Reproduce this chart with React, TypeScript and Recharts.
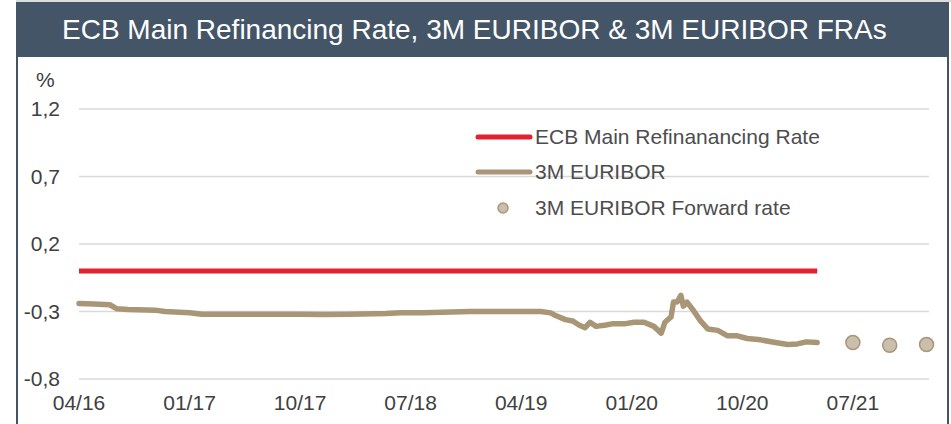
import {
    ComposedChart,
    Line,
    Scatter,
    XAxis,
    YAxis,
    CartesianGrid,
    Legend,
} from "recharts";

// x values are months counted from April 2016
const ecbMonths = [0, 60.1];
const ecbRates = [0, 0];

const euriborMonths = [
    0, 1.2, 2.5, 3.1, 4, 6.2, 7, 9, 10, 14, 18, 20, 22, 25, 26.2, 28, 31.9,
    34.3, 37.6, 38.4, 38.8, 39.6, 40.2, 40.7, 41.2, 41.6, 42.1, 42.9, 43.5,
    44.5, 45.2, 46, 46.8, 47.4, 47.7, 48.2, 48.4, 48.7, 49, 49.2, 49.5, 50,
    50.6, 51.2, 52, 52.8, 53.6, 54.4, 55.5, 56.7, 57.7, 58.5, 59.2, 60.1,
];
const euriborRates = [
    -0.24, -0.245, -0.25, -0.28, -0.285, -0.29, -0.3, -0.31, -0.32, -0.32,
    -0.32, -0.322, -0.32, -0.315, -0.31, -0.31, -0.3, -0.3, -0.3, -0.31, -0.33,
    -0.36, -0.37, -0.4, -0.42, -0.38, -0.41, -0.4, -0.39, -0.39, -0.38, -0.38,
    -0.41, -0.46, -0.38, -0.34, -0.23, -0.23, -0.18, -0.26, -0.23, -0.29,
    -0.37, -0.43, -0.44, -0.48, -0.48, -0.5, -0.51, -0.53, -0.545, -0.54,
    -0.525, -0.53,
];

const fraMonths = [63, 66, 69];
const fraRates = [-0.53, -0.55, -0.545];

const xTicks = [0, 9, 18, 27, 36, 45, 54, 63];
const xTickLabels = ["04/16", "01/17", "10/17", "07/18", "04/19", "01/20", "10/20", "07/21"];
const yTicks = [-0.8, -0.3, 0.2, 0.7, 1.2];

const ecbData = ecbMonths.map((t, i) => ({ t, v: ecbRates[i] }));
const euriborData = euriborMonths.map((t, i) => ({ t, v: euriborRates[i] }));
const fraData = fraMonths.map((t, i) => ({ t, v: fraRates[i] }));

const FONT = "'Liberation Sans', Arial, sans-serif";
const SLATE = "#435566";
const RED = "#e3212f";
const TAN = "#a89676";
const DOT = "#c9bfac";

const LegendBox = () => (
    <div style={{ fontFamily: FONT, fontSize: 21, color: "#4d4d4d" }}>
        {[
            { name: "ECB Main Refinanancing Rate", kind: "line", color: RED },
            { name: "3M EURIBOR", kind: "line", color: TAN },
            { name: "3M EURIBOR Forward rate", kind: "dot", color: DOT },
        ].map((item) => (
            <div
                key={item.name}
                style={{ display: "flex", alignItems: "center", height: 35.5, whiteSpace: "nowrap" }}
            >
                <svg width={60} height={12} style={{ display: "block" }}>
                    {item.kind === "line" ? (
                        <line x1={3} y1={6} x2={55} y2={6} stroke={item.color} strokeWidth={5} strokeLinecap="round" />
                    ) : (
                        <circle cx={28} cy={6} r={5} fill={item.color} stroke={TAN} strokeWidth={1.5} />
                    )}
                </svg>
                <span>{item.name}</span>
            </div>
        ))}
    </div>
);

const App = () => {
    return (
        <div
            style={{
                position: "absolute",
                left: 0,
                top: 0,
                width: 951,
                height: 424,
                background: "#fff",
                overflow: "hidden",
            }}
        >
            <div style={{ position: "absolute", left: 16, top: 0, width: 935, height: 2, background: "#dcdcdc" }} />
            <div style={{ position: "absolute", left: 16, top: 2, width: 933, height: 55, background: SLATE }} />
            <div style={{ position: "absolute", left: 16, top: 57, width: 2, height: 367, background: SLATE }} />
            <div style={{ position: "absolute", left: 947, top: 57, width: 2, height: 367, background: SLATE }} />
            <div
                style={{
                    position: "absolute",
                    left: 62,
                    top: 14,
                    fontFamily: FONT,
                    fontSize: 28,
                    lineHeight: "32px",
                    color: "#fff",
                    whiteSpace: "nowrap",
                }}
            >
                ECB Main Refinancing Rate, 3M EURIBOR &amp; 3M EURIBOR FRAs
            </div>
            <div
                style={{
                    position: "absolute",
                    left: 36,
                    top: 68,
                    fontFamily: FONT,
                    fontSize: 21,
                    lineHeight: "24px",
                    color: "#404040",
                }}
            >
                %
            </div>
            <div style={{ position: "absolute", left: 0, top: 0 }}>
                <ComposedChart
                    width={951}
                    height={424}
                    margin={{ top: 109, right: 22, bottom: 0, left: 0 }}
                    style={{ fontFamily: FONT }}
                >
                    <CartesianGrid vertical={false} stroke="#d9d9d9" strokeWidth={1.5} />
                    <XAxis
                        type="number"
                        dataKey="t"
                        domain={[0, 69.2]}
                        ticks={xTicks}
                        tickFormatter={(t: number) => xTickLabels[xTicks.indexOf(t)] ?? ""}
                        axisLine={false}
                        tickLine={false}
                        tickSize={0}
                        tickMargin={16}
                        height={45}
                        interval={0}
                        tick={{ fill: "#404040", fontSize: 21 }}
                    />
                    <YAxis
                        type="number"
                        domain={[-0.8, 1.2]}
                        ticks={yTicks}
                        tickFormatter={(v: number) => v.toFixed(1).replace(".", ",")}
                        axisLine={false}
                        tickLine={false}
                        tickSize={0}
                        tickMargin={19}
                        width={79}
                        interval={0}
                        tick={{ fill: "#404040", fontSize: 21 }}
                    />
                    <Line
                        data={ecbData}
                        dataKey="v"
                        name="ECB Main Refinanancing Rate"
                        stroke={RED}
                        strokeWidth={5}
                        dot={false}
                        activeDot={false}
                        isAnimationActive={false}
                    />
                    <Line
                        data={euriborData}
                        dataKey="v"
                        name="3M EURIBOR"
                        stroke={TAN}
                        strokeWidth={5.5}
                        strokeLinejoin="round"
                        strokeLinecap="round"
                        dot={false}
                        activeDot={false}
                        isAnimationActive={false}
                    />
                    <Scatter
                        data={fraData}
                        dataKey="v"
                        name="3M EURIBOR Forward rate"
                        isAnimationActive={false}
                        shape={(props: any) => (
                            <circle cx={props.cx} cy={props.cy} r={7} fill={DOT} stroke={TAN} strokeWidth={1.5} />
                        )}
                    />
                    <Legend
                        layout="vertical"
                        align="center"
                        verticalAlign="middle"
                        content={() => <LegendBox />}
                        wrapperStyle={{ left: 475, top: 119, width: 380 }}
                    />
                </ComposedChart>
            </div>
        </div>
    );
};

export default App;
